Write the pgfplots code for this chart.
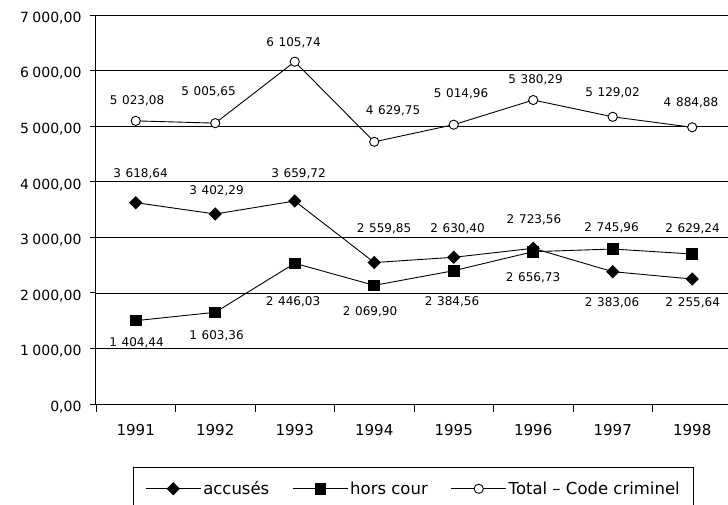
\documentclass[border=0pt]{standalone}
\usepackage{pgfplots}
\pgfplotsset{compat=1.18}
\usepackage{pgfplotstable}
\usepackage{fontspec}
\setmainfont{DejaVu Sans}
\newcommand{\ts}{\hspace{0.4em}}
\newcommand{\labelfont}{\fontsize{12}{14}\selectfont}

\pgfplotstableread{
x y
1 3623
2 3419
3 3653
4 2546
5 2640
6 2802
7 2381
8 2249
}\accuses

\pgfplotstableread{
x y
1 1500
2 1650
3 2532
4 2135
5 2399
6 2741
7 2789
8 2699
}\horscour

\pgfplotstableread{
x y
1 5095
2 5054
3 6160
4 4718
5 5026
6 5470
7 5168
8 4979
}\total

\pgfplotstableread{
x y label
1.016 5453 {5\ts023,08}
1.915 5620 {5\ts005,65}
2.984 6496 {6\ts105,74}
4.236 5273 {4\ts629,75}
5.091 5579 {5\ts014,96}
6.028 5831 {5\ts380,29}
6.997 5597 {5\ts129,02}
7.984 5417 {4\ts884,88}
}\totallab

\pgfplotstableread{
x y label
1.060 4139 {3\ts618,64}
2.016 3838 {3\ts402,29}
3.047 4139 {3\ts659,72}
4.123 3149 {2\ts559,85}
5.047 3149 {2\ts630,40}
6.009 3311 {2\ts723,56}
6.991 1818 {2\ts383,06}
8.006 1818 {2\ts255,64}
}\accuseslab

\pgfplotstableread{
x y label
1.009 1098 {1\ts404,44}
2.016 1224 {1\ts603,36}
2.978 1836 {2\ts446,03}
3.947 1656 {2\ts069,90}
4.978 1836 {2\ts384,56}
5.997 2267 {2\ts656,73}
6.984 3167 {2\ts745,96}
8.003 3149 {2\ts629,24}
}\horscourlab

\begin{document}
\begin{tikzpicture}
\begin{axis}[
  scale only axis, width=632pt, height=389pt,
  xmin=0.5, xmax=8.45, ymin=0, ymax=7000,
  axis x line*=bottom, axis y line*=left,
  axis line style={line width=1pt},
  xtick={1,2,3,4,5,6,7,8},
  xticklabels={1991,1992,1993,1994,1995,1996,1997,1998},
  major x tick style={draw=none},
  minor xtick={0.5,1.5,2.5,3.5,4.5,5.5,6.5,7.5},
  minor tick length=8pt, major tick length=6pt,
  tick align=outside,
  tick style={black, line width=0.8pt},
  ytick={0,1000,2000,3000,4000,5000,6000,7000},
  ymajorgrids, grid style={black, line width=0.6pt},
  scaled y ticks=false,
  yticklabel style={font=\fontsize{14}{16}\selectfont, xshift=-5pt, yshift=-3pt,
    /pgf/number format/fixed, /pgf/number format/fixed zerofill,
    /pgf/number format/precision=2, /pgf/number format/use comma,
    /pgf/number format/1000 sep={\hspace{0.25em}},
    /pgf/number format/assume math mode=true},
  xticklabel style={font=\fontsize{15}{17}\selectfont, yshift=-11pt,
    /pgf/number format/assume math mode=true},
  legend style={at={(rel axis cs:0.0585,-0.162)}, anchor=north west,
    legend columns=-1, draw=black, line width=0.8pt,
    font=\fontsize{16.5}{19}\selectfont,
    inner xsep=12pt, inner ysep=12pt,
    /tikz/every even column/.append style={column sep=21pt}},
  legend image code/.code={\draw[mark repeat=2,mark phase=2,#1] plot coordinates {(0pt,0pt) (27.5pt,0pt) (55pt,0pt)};},
  clip=false,
]
\coordinate (O) at (rel axis cs:0,0);
\addplot[black, line width=0.9pt, mark=diamond*, mark size=6pt,
  mark options={xscale=1.33, fill=black, solid}] table {\accuses};
\addlegendentry{accusés}
\addplot[black, line width=0.9pt, mark=square*, mark size=5.3pt,
  mark options={fill=black, solid}] table {\horscour};
\addlegendentry{hors cour}
\addplot[black, line width=0.9pt, mark=*, mark size=4.6pt,
  mark options={fill=white, draw=black, solid}] table {\total};
\addlegendentry{Total -- Code criminel}

\addplot[draw=none, mark=none, forget plot, nodes near coords,
  point meta=explicit symbolic, nodes near coords align={anchor=center},
  every node near coord/.append style={anchor=center, font=\labelfont, inner sep=0pt}]
  table[meta=label] {\totallab};
\addplot[draw=none, mark=none, forget plot, nodes near coords,
  point meta=explicit symbolic, nodes near coords align={anchor=center},
  every node near coord/.append style={anchor=center, font=\labelfont, inner sep=0pt}]
  table[meta=label] {\accuseslab};
\addplot[draw=none, mark=none, forget plot, nodes near coords,
  point meta=explicit symbolic, nodes near coords align={anchor=center},
  every node near coord/.append style={anchor=center, font=\labelfont, inner sep=0pt}]
  table[meta=label] {\horscourlab};
\end{axis}
\pgfresetboundingbox
\path[use as bounding box] ([xshift=-96pt,yshift=-100pt]O) rectangle ([xshift=632pt,yshift=404pt]O);
\end{tikzpicture}
\end{document}
